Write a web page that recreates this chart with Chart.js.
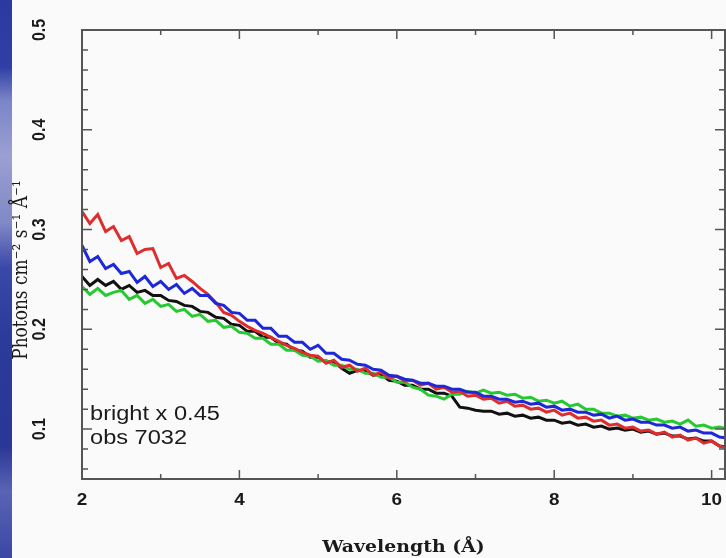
<!DOCTYPE html>
<html>
<head>
<meta charset="utf-8">
<script src="https://cdn.jsdelivr.net/npm/chart.js@4.4.1/dist/chart.umd.min.js"></script>
<style>
  body { margin: 0; background: #fafafa; }
  #wrap { position: relative; width: 726px; height: 558px; overflow: hidden; }
  #strip { position: absolute; left: 0; top: 0; width: 12px; height: 558px;
    background: linear-gradient(to bottom, #2a3aa0 0%, #2f3fa6 12%, #7a85c8 18%, #9aa0d2 28%, #8088c6 40%, #3a48a8 48%, #2c3a9a 60%, #2a3796 80%, #5a64b4 88%, #3a47a4 100%); }
  canvas { position: absolute; left: 0; top: 0; }
</style>
</head>
<body>
<div id="wrap">
  <div id="strip"></div>
  <canvas id="myChart" width="726" height="558"></canvas>
</div>
<script>
// wavelength grid (Angstrom)
var wavelength = [2.0,2.1,2.2,2.3,2.4,2.5,2.6,2.7,2.8,2.9,
  3.0,3.1,3.2,3.3,3.4,3.5,3.6,3.7,3.8,3.9,
  4.0,4.1,4.2,4.3,4.4,4.5,4.6,4.7,4.8,4.9,
  5.0,5.1,5.2,5.3,5.4,5.5,5.6,5.7,5.8,5.9,
  6.0,6.1,6.2,6.3,6.4,6.5,6.6,6.7,6.8,6.9,
  7.0,7.1,7.2,7.3,7.4,7.5,7.6,7.7,7.8,7.9,
  8.0,8.1,8.2,8.3,8.4,8.5,8.6,8.7,8.8,8.9,
  9.0,9.1,9.2,9.3,9.4,9.5,9.6,9.7,9.8,9.9,
  10.0,10.1,10.2];

var redFlux = [0.318,0.306,0.315,0.298,0.303,0.289,0.293,0.276,0.280,0.281,
  0.262,0.266,0.251,0.254,0.248,0.241,0.235,0.227,0.217,0.214,
  0.208,0.203,0.199,0.196,0.192,0.188,0.184,0.181,0.177,0.174,
  0.173,0.166,0.169,0.162,0.164,0.158,0.161,0.154,0.157,0.151,
  0.153,0.148,0.149,0.144,0.146,0.140,0.142,0.137,0.138,0.133,
  0.134,0.130,0.131,0.126,0.128,0.123,0.124,0.120,0.121,0.117,
  0.119,0.114,0.116,0.111,0.112,0.108,0.109,0.104,0.105,0.101,
  0.102,0.098,0.099,0.095,0.097,0.092,0.094,0.089,0.091,0.086,
  0.088,0.083,0.081];

var blueFlux = [0.284,0.268,0.273,0.261,0.265,0.256,0.258,0.247,0.253,0.243,
  0.248,0.240,0.245,0.236,0.241,0.234,0.234,0.226,0.224,0.217,
  0.216,0.209,0.209,0.201,0.201,0.193,0.193,0.187,0.187,0.180,
  0.184,0.176,0.176,0.170,0.169,0.165,0.164,0.160,0.159,0.154,
  0.153,0.150,0.149,0.146,0.146,0.143,0.143,0.140,0.140,0.137,
  0.137,0.133,0.133,0.130,0.130,0.127,0.128,0.125,0.126,0.122,
  0.123,0.119,0.120,0.117,0.117,0.114,0.115,0.111,0.113,0.109,
  0.110,0.107,0.107,0.104,0.104,0.101,0.102,0.098,0.099,0.096,
  0.096,0.092,0.091];

var blackFlux = [0.253,0.244,0.250,0.244,0.248,0.240,0.244,0.237,0.239,0.234,
  0.234,0.229,0.228,0.224,0.223,0.218,0.217,0.212,0.211,0.205,
  0.204,0.198,0.198,0.192,0.192,0.186,0.185,0.179,0.178,0.172,
  0.172,0.167,0.168,0.161,0.156,0.159,0.158,0.154,0.155,0.149,
  0.148,0.144,0.144,0.140,0.140,0.136,0.136,0.133,0.122,0.121,
  0.119,0.118,0.118,0.115,0.116,0.113,0.114,0.111,0.112,0.109,
  0.109,0.106,0.107,0.104,0.105,0.102,0.103,0.100,0.101,0.099,
  0.100,0.097,0.098,0.095,0.096,0.093,0.093,0.090,0.091,0.088,
  0.088,0.083,0.082];

var greenFlux = [0.243,0.235,0.241,0.234,0.237,0.239,0.230,0.234,0.226,0.230,
  0.223,0.225,0.218,0.220,0.213,0.215,0.208,0.209,0.202,0.203,
  0.197,0.196,0.191,0.191,0.185,0.185,0.179,0.179,0.174,0.173,
  0.168,0.169,0.164,0.164,0.160,0.160,0.156,0.156,0.152,0.152,
  0.147,0.147,0.142,0.140,0.134,0.133,0.130,0.135,0.135,0.138,
  0.136,0.139,0.136,0.137,0.134,0.135,0.131,0.132,0.128,0.129,
  0.126,0.128,0.123,0.125,0.120,0.120,0.116,0.116,0.113,0.114,
  0.111,0.112,0.109,0.110,0.107,0.108,0.105,0.109,0.103,0.104,
  0.101,0.102,0.100];

// ticks
var xTicks = [2, 4, 6, 8, 10];
var xTickLabels = ['2', '4', '6', '8', '10'];
var xMinor = [3, 5, 7, 9];
var yTicks = [0.1, 0.2, 0.3, 0.4, 0.5];
var yTickLabels = ['0.1', '0.2', '0.3', '0.4', '0.5'];
var yMinor = [0.06, 0.08, 0.12, 0.14, 0.16, 0.18, 0.22, 0.24, 0.26, 0.28,
  0.32, 0.34, 0.36, 0.38, 0.42, 0.44, 0.46, 0.48];

function pts(arr) {
    return wavelength.map(function (w, i) { return { x: w, y: arr[i] }; });
}

// the picture is a bit wider than tall, so text gets stretched sideways
var stretch = 1.18;
function drawText(ctx, text, x, y, font, rotated, align, baseline) {
    ctx.save();
    ctx.translate(x, y);
    ctx.scale(stretch, 1);
    if (rotated) ctx.rotate(-Math.PI / 2);
    ctx.font = font;
    ctx.textAlign = align || 'center';
    ctx.textBaseline = baseline || 'middle';
    ctx.fillText(text, 0, 0);
    ctx.restore();
}

var framePlugin = {
    id: 'frame',
    afterDatasetsDraw: function (chart) {
        var ctx = chart.ctx;
        var a = chart.chartArea;
        var xs = chart.scales.x, ys = chart.scales.y;
        ctx.save();
        ctx.strokeStyle = '#555';
        ctx.lineWidth = 1.5;
        ctx.beginPath();
        xTicks.forEach(function (v) {
            var px = xs.getPixelForValue(v);
            ctx.moveTo(px, a.bottom); ctx.lineTo(px, a.bottom - 9);
            ctx.moveTo(px, a.top); ctx.lineTo(px, a.top + 9);
        });
        xMinor.forEach(function (v) {
            var px = xs.getPixelForValue(v);
            ctx.moveTo(px, a.bottom); ctx.lineTo(px, a.bottom - 5);
            ctx.moveTo(px, a.top); ctx.lineTo(px, a.top + 5);
        });
        yTicks.forEach(function (v) {
            var py = ys.getPixelForValue(v);
            ctx.moveTo(a.left, py); ctx.lineTo(a.left + 10, py);
            ctx.moveTo(a.right, py); ctx.lineTo(a.right - 10, py);
        });
        yMinor.forEach(function (v) {
            var py = ys.getPixelForValue(v);
            ctx.moveTo(a.left, py); ctx.lineTo(a.left + 6, py);
            ctx.moveTo(a.right, py); ctx.lineTo(a.right - 6, py);
        });
        ctx.stroke();
        ctx.lineWidth = 2;
        ctx.strokeRect(a.left, a.top, a.right - a.left, a.bottom - a.top);

        ctx.fillStyle = '#1a1a1a';
        xTicks.forEach(function (v, i) {
            drawText(ctx, xTickLabels[i], xs.getPixelForValue(v), 501, 'bold 16px "Liberation Sans"');
        });
        yTicks.forEach(function (v, i) {
            drawText(ctx, yTickLabels[i], 40, ys.getPixelForValue(v), 'bold 16px "Liberation Sans"', true);
        });
        drawText(ctx, 'Wavelength (\u00c5)', (a.left + a.right) / 2, 548, 'bold 16px "DejaVu Serif"');
        drawText(ctx, 'Photons cm\u207b\u00b2 s\u207b\u00b9 \u00c5\u207b\u00b9', 22, 270, '17px "DejaVu Serif"', true);
        drawText(ctx, 'bright x 0.45', a.left + 8, 420, '20px "Liberation Sans"', false, 'left', 'alphabetic');
        drawText(ctx, 'obs 7032', a.left + 8, 444, '20px "Liberation Sans"', false, 'left', 'alphabetic');
        ctx.restore();
    }
};

const ctx = document.getElementById('myChart');
const myChart = new Chart(ctx, {
    type: 'line',
    data: {
        datasets: [
            { label: 'blue', data: pts(blueFlux), borderColor: 'rgb(30, 40, 215)', order: 1 },
            { label: 'red', data: pts(redFlux), borderColor: 'rgb(222, 45, 45)', order: 2 },
            { label: 'green', data: pts(greenFlux), borderColor: 'rgb(40, 200, 50)', order: 3 },
            { label: 'black', data: pts(blackFlux), borderColor: '#111', order: 4 }
        ]
    },
    options: {
        responsive: false,
        animation: false,
        layout: { padding: { left: 82, right: 1, top: 30, bottom: 79 } },
        elements: {
            point: { radius: 0 },
            line: { borderWidth: 3, tension: 0 }
        },
        plugins: {
            legend: { display: false },
            tooltip: { enabled: false }
        },
        scales: {
            x: { type: 'linear', min: 2, max: 10.17, display: false },
            y: { type: 'linear', min: 0.05, max: 0.5, display: false }
        }
    },
    plugins: [framePlugin]
});
</script>
</body>
</html>
